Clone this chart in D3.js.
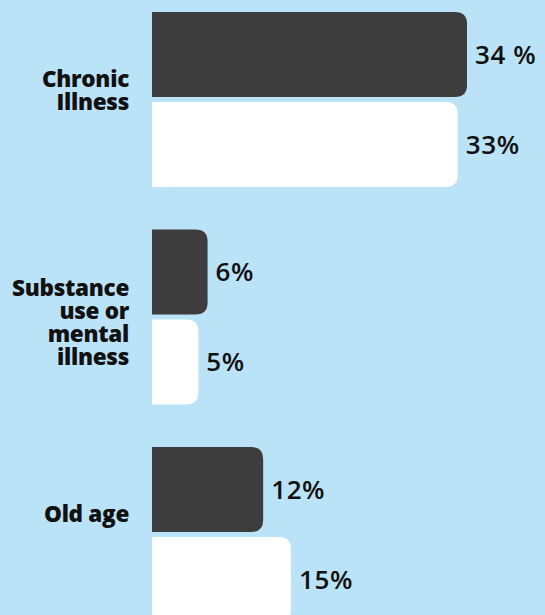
<!DOCTYPE html>
<html>
<head>
<meta charset="utf-8">
<script src="https://cdn.jsdelivr.net/npm/d3@7"></script>
<style>
  html, body { margin: 0; padding: 0; background: #bbe3f7; }
  svg { display: block; }
</style>
</head>
<body>
<svg id="chart" width="545" height="615"></svg>
<script>
// ---- data ----
const categories = ["Chronic Illness", "Substance use or mental illness", "Old age"];
const categoryLines = [["Chronic", "Illness"], ["Substance", "use or", "mental", "illness"], ["Old age"]];
const seriesNames = ["dark", "white"];
const darkValues = [34, 6, 12];
const whiteValues = [33, 5, 15];
const valueLabels = [["34 %", "33%"], ["6%", "5%"], ["12%", "15%"]];

// ---- layout ----
const W = 545, H = 615;
const left = 152;
const svg = d3.select("#chart");
svg.append("rect").attr("width", W).attr("height", H).attr("fill", "#bbe3f7");

const x = d3.scaleLinear().domain([0, 34]).range([left, 467]);
const y0 = d3.scaleBand().domain(categories).range([12, 622]).paddingInner(0.195).paddingOuter(0);
const y1 = d3.scaleBand().domain(seriesNames).range([0, y0.bandwidth()]).paddingInner(0.0556);
const colors = { dark: "#3d3d3d", white: "#ffffff" };
const labelShift = [-9, 5, -21];

const rows = [];
categories.forEach((c, i) => {
  rows.push({ cat: c, s: "dark", v: darkValues[i], label: valueLabels[i][0] });
  rows.push({ cat: c, s: "white", v: whiteValues[i], label: valueLabels[i][1] });
});

function rightRounded(x0, yTop, w, h, r) {
  r = Math.min(r, w, h / 2);
  return `M${x0},${yTop}H${x0 + w - r}Q${x0 + w},${yTop} ${x0 + w},${yTop + r}` +
         `V${yTop + h - r}Q${x0 + w},${yTop + h} ${x0 + w - r},${yTop + h}H${x0}Z`;
}

svg.selectAll("path.bar").data(rows).enter().append("path")
  .attr("class", "bar")
  .attr("d", d => rightRounded(x(0), y0(d.cat) + y1(d.s), x(d.v) - x(0), y1.bandwidth(), 12))
  .attr("fill", d => colors[d.s]);

svg.selectAll("text.val").data(rows).enter().append("text")
  .attr("class", "val")
  .attr("x", d => x(d.v) + 8)
  .attr("y", d => y0(d.cat) + y1(d.s) + y1.bandwidth() / 2)
  .attr("dy", "0.36em")
  .attr("font-family", "'Open Sans', sans-serif")
  .attr("font-weight", 600)
  .attr("font-size", 26)
  .attr("letter-spacing", 0.6)
  .attr("fill", "#111")
  .text(d => d.label);

const lh = 23;
categories.forEach((c, i) => {
  const lines = categoryLines[i];
  const cy = y0(c) + y0.bandwidth() / 2 + labelShift[i];
  const t = svg.append("text")
    .attr("text-anchor", "end")
    .attr("font-family", "'Open Sans', sans-serif")
    .attr("font-weight", 800)
    .attr("font-size", 22.5)
    .attr("letter-spacing", -0.3)
    .attr("fill", "#111");
  lines.forEach((ln, j) => {
    t.append("tspan")
      .attr("x", 129)
      .attr("y", cy + (j - (lines.length - 1) / 2) * lh)
      .attr("dy", "0.36em")
      .text(ln);
  });
});
</script>
</body>
</html>
